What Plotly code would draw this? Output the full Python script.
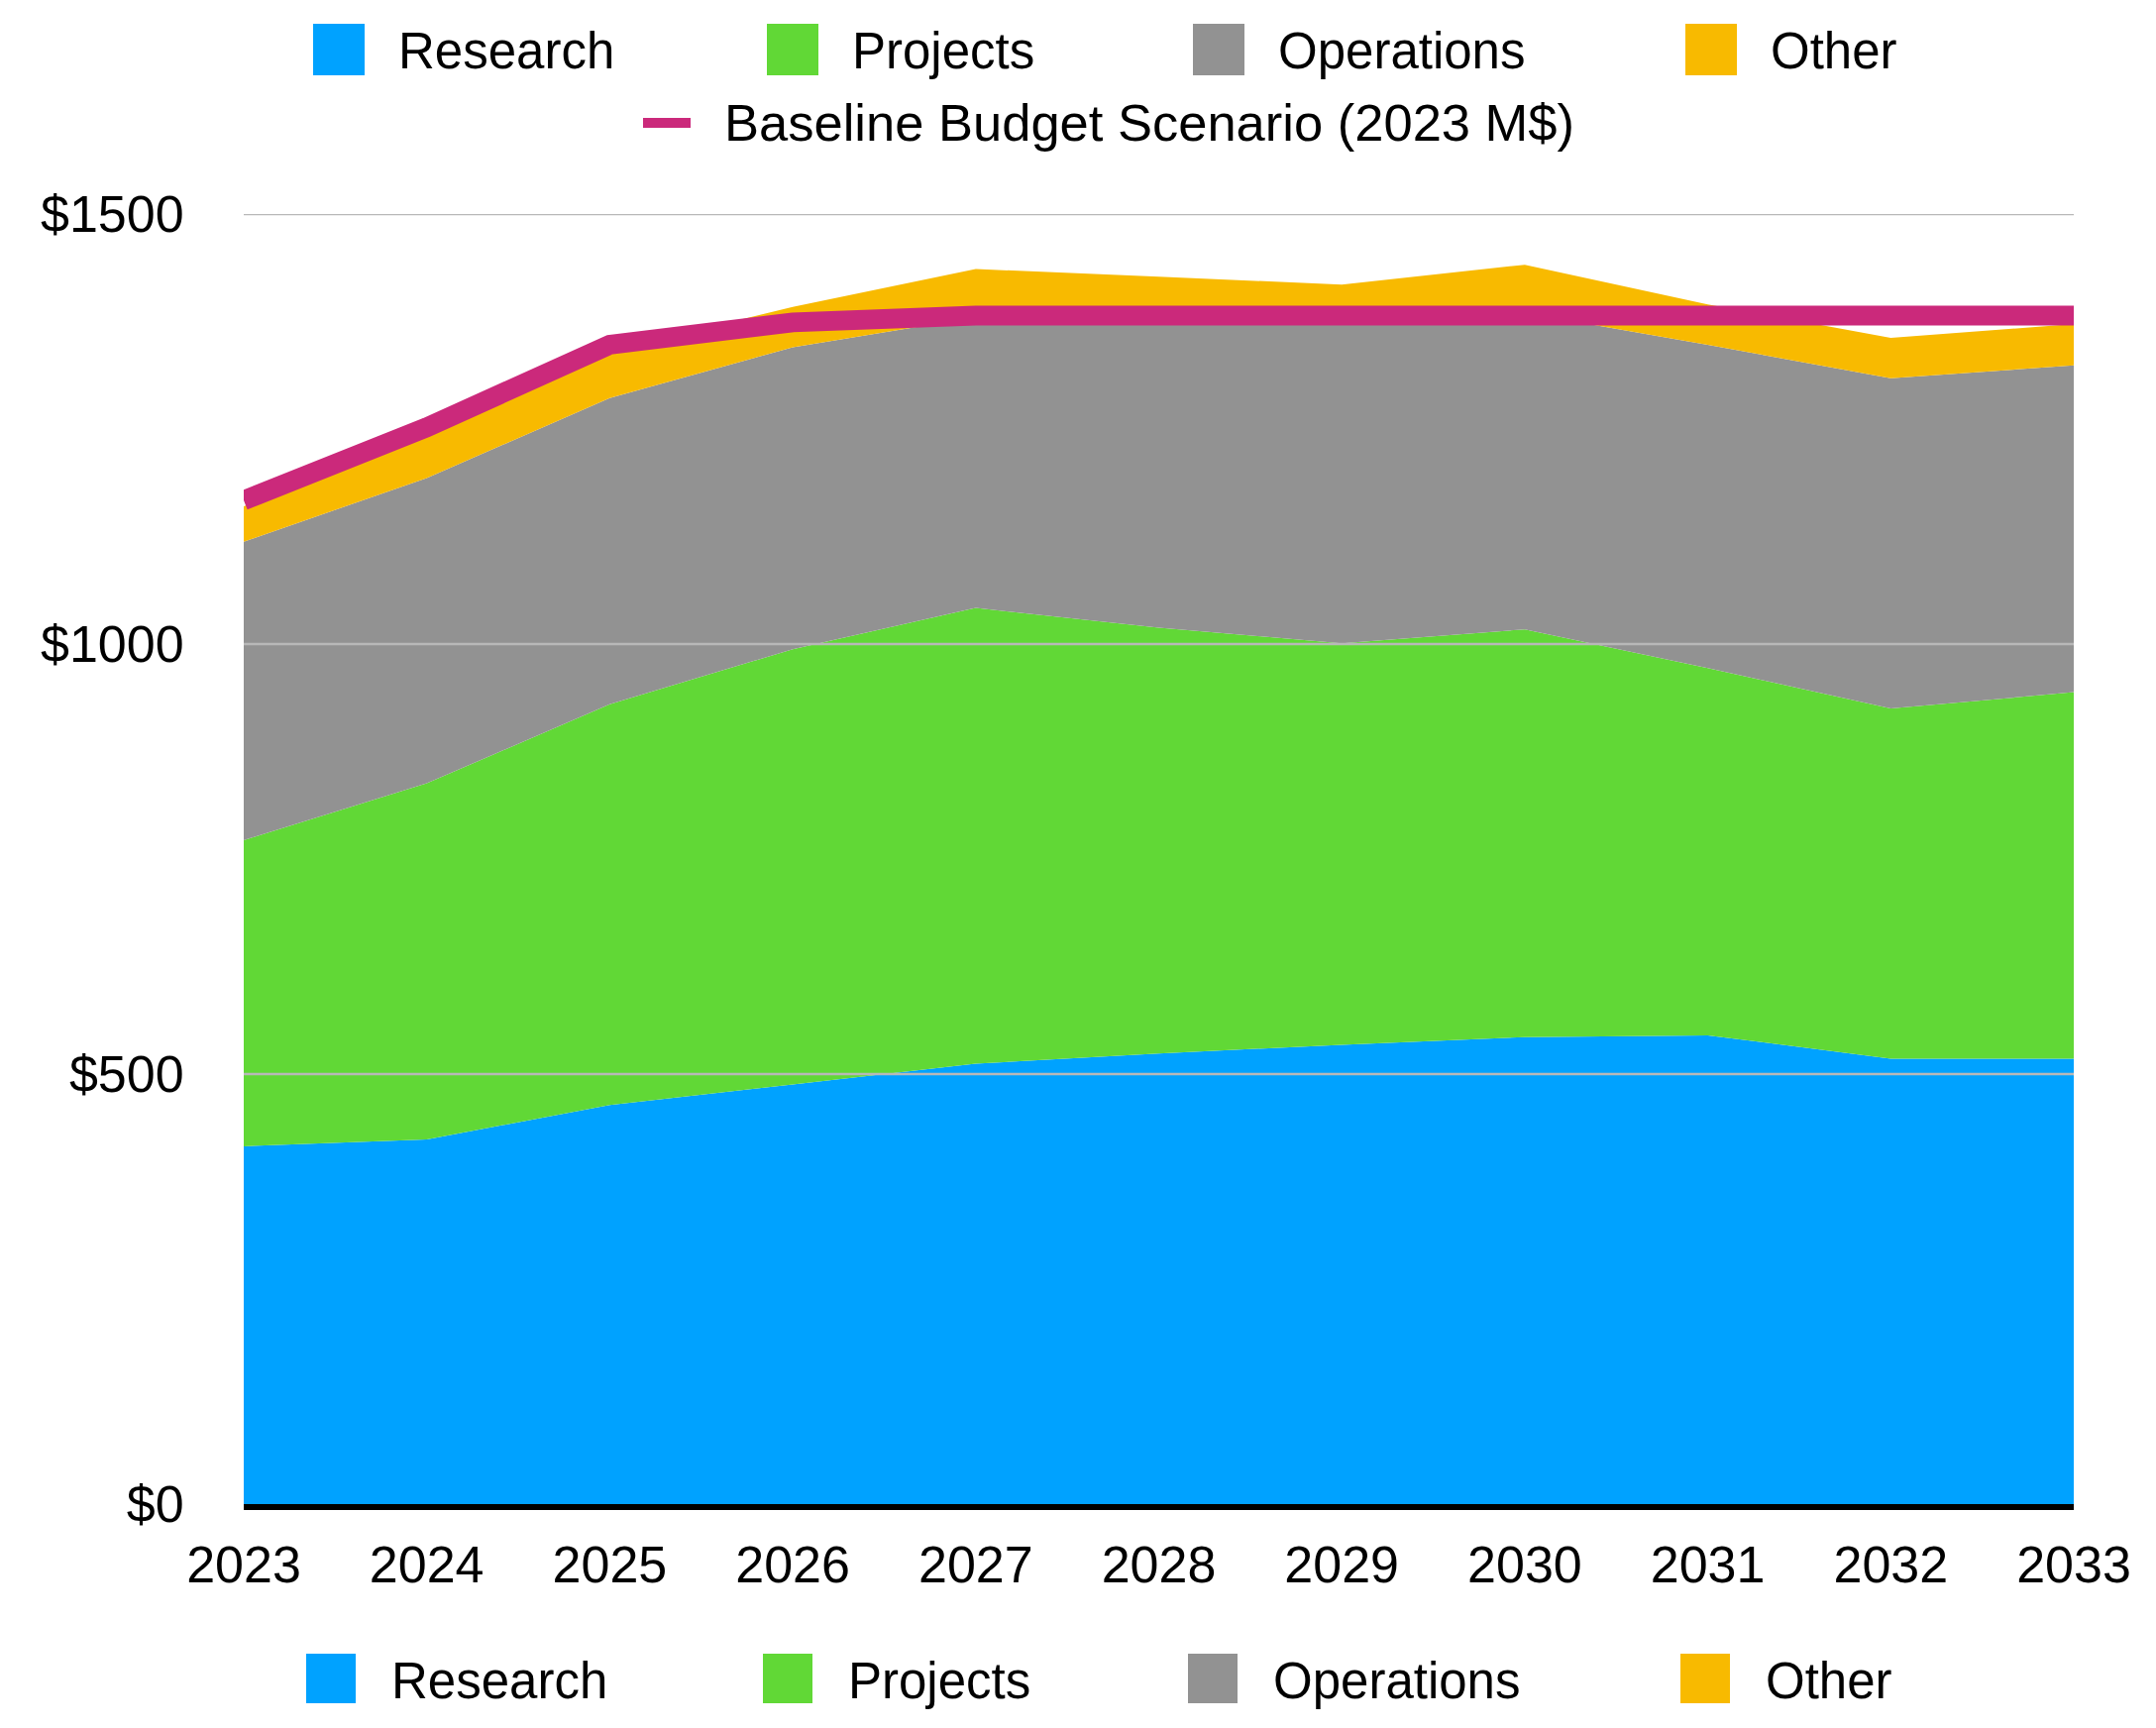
import plotly.graph_objects as go

# ---------------- data ----------------
years = list(range(2023, 2034))
research = [416, 424, 464, 488, 512, 524, 534, 543, 545, 518, 518]
projects = [356, 414, 466, 506, 530, 495, 467, 474, 427, 407, 426]
operations = [347, 355, 356, 351, 338, 361, 381, 368, 376, 384, 380]
other = [41, 49, 54, 47, 56, 47, 36, 56, 47, 47, 48]
baseline = [1167, 1252, 1348, 1374, 1382, 1382, 1382, 1382, 1382, 1382, 1382]

series_names = ["Research", "Projects", "Operations", "Other"]
series_values = [research, projects, operations, other]
series_colors = ["#00A2FF", "#61D836", "#929292", "#F8BA00"]
baseline_name = "Baseline Budget Scenario (2023 M$)"
baseline_color = "#CB297B"

y_ticks = [0, 500, 1000, 1500]
y_ticktext = ["$" + str(v) for v in y_ticks]

# ---------------- layout geometry ----------------
W, H = 2176, 1744
ML, MR, MT, MB = 246, 83, 216, 226
PW, PH = W - ML - MR, H - MT - MB
FONT = "Liberation Sans, Arial, Helvetica, sans-serif"
FS = 51


def px_x(p):
    return (p - ML) / PW


def px_y(p):
    return (H - MB - p) / PH


fig = go.Figure()

for name, vals, col in zip(series_names, series_values, series_colors):
    fig.add_trace(go.Scatter(
        x=years, y=vals, name=name, stackgroup="one", mode="none",
        fill="tonexty", fillcolor=col, showlegend=False,
    ))

fig.add_trace(go.Scatter(
    x=years, y=baseline, name=baseline_name, mode="lines",
    line=dict(color=baseline_color, width=20), showlegend=False,
))

shapes = []
# gridlines drawn above the areas
for v in y_ticks[1:]:
    shapes.append(dict(type="line", xref="paper", yref="y", x0=0, x1=1, y0=v, y1=v,
                       line=dict(color="#B8B8B8", width=2.5), layer="above"))

annotations = []

# manual legends (big square swatches)
top_sq_x = [316, 774, 1204, 1701]
bot_sq_x = [309, 770, 1199, 1696]
text_dx = 86


def add_row(xs, yc, size):
    for x0, name, col in zip(xs, series_names, series_colors):
        shapes.append(dict(type="rect", xref="paper", yref="paper",
                           x0=px_x(x0), x1=px_x(x0 + size),
                           y0=px_y(yc - size / 2), y1=px_y(yc + size / 2),
                           fillcolor=col, line=dict(width=0), layer="above"))
        annotations.append(dict(text=name, xref="paper", yref="paper",
                                x=px_x(x0 + text_dx - 2), y=px_y(yc + 2),
                                xanchor="left", yanchor="middle", showarrow=False,
                                font=dict(family=FONT, size=FS, color="#000000")))


add_row(top_sq_x, 50, 52)
add_row(bot_sq_x, 1694, 50)

# baseline legend item
shapes.append(dict(type="line", xref="paper", yref="paper",
                   x0=px_x(649), x1=px_x(697), y0=px_y(124), y1=px_y(124),
                   line=dict(color=baseline_color, width=10), layer="above"))
annotations.append(dict(text=baseline_name, xref="paper", yref="paper",
                        x=px_x(729), y=px_y(124), xanchor="left", yanchor="middle",
                        showarrow=False, font=dict(family=FONT, size=52.5, color="#000000")))

fig.update_layout(
    width=W, height=H,
    margin=dict(l=ML, r=MR, t=MT, b=MB, pad=0),
    paper_bgcolor="white", plot_bgcolor="white",
    font=dict(family=FONT, size=52, color="#000000"),
    showlegend=False,
    shapes=shapes, annotations=annotations,
    xaxis=dict(range=[years[0], years[-1]], tickvals=years, ticktext=[str(y) for y in years],
               showgrid=False, zeroline=False, showline=True, linecolor="#000000",
               linewidth=6, layer="above traces", ticks="outside", ticklen=11,
               tickcolor="rgba(0,0,0,0)", tickfont=dict(size=52)),
    yaxis=dict(range=[0, 1500], tickvals=y_ticks, ticktext=y_ticktext,
               showgrid=False, zeroline=False, showline=False,
               ticks="outside", ticklen=49, tickcolor="rgba(0,0,0,0)",
               tickfont=dict(size=52)),
)

fig.write_html("out.html")
